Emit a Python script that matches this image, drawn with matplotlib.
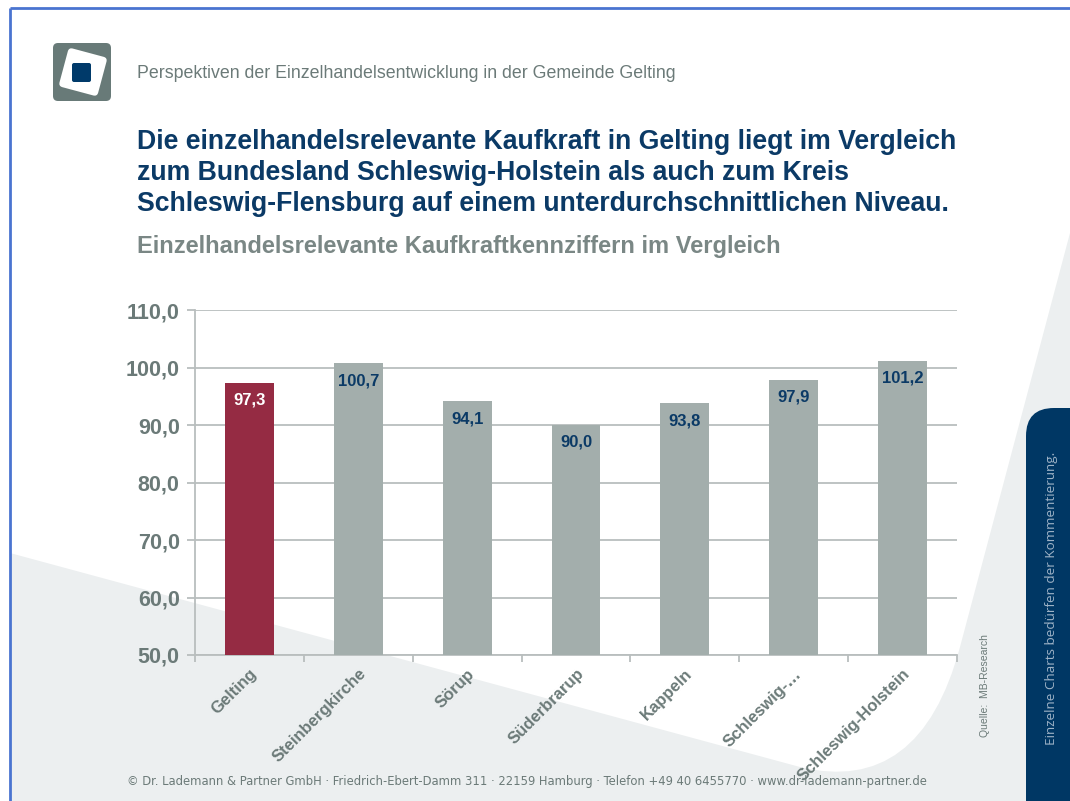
import numpy as np
import matplotlib
matplotlib.use("Agg")
import matplotlib.pyplot as plt
from matplotlib.patches import FancyBboxPatch, PathPatch, Rectangle
from matplotlib.path import Path
import matplotlib.transforms as mtransforms

plt.rcParams['font.family'] = ['Liberation Sans', 'DejaVu Sans']

# --- data ---
orte = ["Gelting", "Steinbergkirche", "Sörup", "Süderbrarup", "Kappeln",
        "Schleswig-…", "Schleswig-Holstein"]
kaufkraft = [97.3, 100.7, 94.1, 90.0, 93.8, 97.9, 101.2]
y_ticks = [50, 60, 70, 80, 90, 100, 110]

DARKBLUE = "#0b3a66"
GRAYTXT = "#6b7a78"
GRID = "#b9bebe"
BAR_RED = "#952b43"
BAR_GRAY = "#a3aeac"
BG_GRAY = "#eceff0"

W, H = 1070, 801
fig = plt.figure(figsize=(W / 100, H / 100), dpi=100)

# background layer in pixel coords (y down)
bg = fig.add_axes([0, 0, 1, 1], zorder=0)
bg.set_xlim(0, W); bg.set_ylim(H, 0); bg.axis("off")
bg.add_patch(Rectangle((10, 8), W - 10, H - 8, color=BG_GRAY, lw=0))
verts = [(10, 8), (W, 8), (W, 233), (960, 647), (920, 796), (800, 767), (10, 553), (10, 8)]
codes = [Path.MOVETO, Path.LINETO, Path.LINETO, Path.LINETO, Path.CURVE3, Path.CURVE3,
         Path.LINETO, Path.CLOSEPOLY]
bg.add_patch(PathPatch(Path(verts, codes), facecolor="white", lw=0))
bg.plot([10, 10], [8, H], color="#4a74d0", lw=2, solid_capstyle="butt")
bg.plot([10, W], [8, 8], color="#4a74d0", lw=2, solid_capstyle="butt")

# right side dark box
bg.add_patch(FancyBboxPatch((1026, 408), 80, 420, boxstyle="round,pad=0,rounding_size=28",
                            facecolor="#003764", lw=0))
bg.text(1052, 598, "Einzelne Charts bedürfen der Kommentierung.", rotation=90,
        ha="center", va="center", color="#9fb3c7", fontsize=9.7,
        family=["Open Sans", "DejaVu Sans"])
bg.text(985, 686, "Quelle:  MB-Research", rotation=90, ha="center", va="center",
        color=GRAYTXT, fontsize=7.5)

# logo
bg.add_patch(FancyBboxPatch((53, 43), 58, 58, boxstyle="round,pad=0,rounding_size=5",
                            facecolor="#687a78", lw=0))
rot = mtransforms.Affine2D().rotate_deg_around(83, 72, 15) + bg.transData
bg.add_patch(FancyBboxPatch((63, 52), 40, 40, boxstyle="round,pad=0,rounding_size=4",
                            facecolor="white", lw=0, transform=rot))
bg.add_patch(FancyBboxPatch((72, 63), 19, 19, boxstyle="round,pad=0,rounding_size=2",
                            facecolor="#003a6a", lw=0))

# header texts
bg.text(137, 73, "Perspektiven der Einzelhandelsentwicklung in der Gemeinde Gelting",
        ha="left", va="center", color=GRAYTXT, fontsize=12.8)
title = ("Die einzelhandelsrelevante Kaufkraft in Gelting liegt im Vergleich\n"
         "zum Bundesland Schleswig-Holstein als auch zum Kreis\n"
         "Schleswig-Flensburg auf einem unterdurchschnittlichen Niveau.")
bg.text(137, 173, title, ha="left", va="center", color=DARKBLUE, fontsize=19.2,
        fontweight="bold", linespacing=1.27)
bg.text(137, 246, "Einzelhandelsrelevante Kaufkraftkennziffern im Vergleich",
        ha="left", va="center", color="#7a8785", fontsize=17, fontweight="bold")
bg.text(527, 781, "© Dr. Lademann & Partner GmbH · Friedrich-Ebert-Damm 311 · 22159 Hamburg · "
        "Telefon +49 40 6455770 · www.dr-lademann-partner.de",
        ha="center", va="center", color=GRAYTXT, fontsize=9.3,
        family=["DejaVu Sans"], fontstretch="condensed")

# --- chart ---
ax = fig.add_axes([195 / W, 1 - 655 / H, (957 - 195) / W, (655 - 310) / H], zorder=2)
ax.set_facecolor("none")
x = np.arange(len(orte))
colors = [BAR_RED] + [BAR_GRAY] * (len(orte) - 1)
bars = ax.bar(x, [v - 50 for v in kaufkraft], bottom=50, width=0.45, color=colors, zorder=3)
for i, (b, v) in enumerate(zip(bars, kaufkraft)):
    ax.annotate(f"{v:.1f}".replace(".", ","), (b.get_x() + b.get_width() / 2, v),
                xytext=(0, -12.5), textcoords="offset points", ha="center", va="center",
                fontsize=12, fontweight="bold", color="white" if i == 0 else "#0b3a66",
                zorder=4)

ax.set_xlim(-0.5, len(orte) - 0.5)
ax.set_ylim(50, 110)
ax.set_yticks(y_ticks)
ax.set_yticklabels([f"{t:.1f}".replace(".", ",") for t in y_ticks])
ax.yaxis.grid(True, color=GRID, lw=1.3, zorder=1)
ax.set_axisbelow(True)
ax.tick_params(axis="y", length=6, width=1.3, color=GRID, pad=5, labelsize=15.5,
               labelcolor=GRAYTXT)
for lab in ax.get_yticklabels():
    lab.set_fontweight("bold")

ax.set_xticks(x)
ax.set_xticklabels(orte, rotation=45, ha="right", rotation_mode="anchor",
                   fontsize=12, fontweight="bold", color=GRAYTXT)
ax.tick_params(axis="x", which="major", length=0, pad=8)
ax.set_xticks(np.arange(-0.5, len(orte)), minor=True)
ax.tick_params(axis="x", which="minor", length=5, width=1.3, color=GRID)

for s in ("top", "right"):
    ax.spines[s].set_visible(False)
for s in ("left", "bottom"):
    ax.spines[s].set_color(GRID)
    ax.spines[s].set_linewidth(1.3)

fig.savefig("out.png", dpi=100)
